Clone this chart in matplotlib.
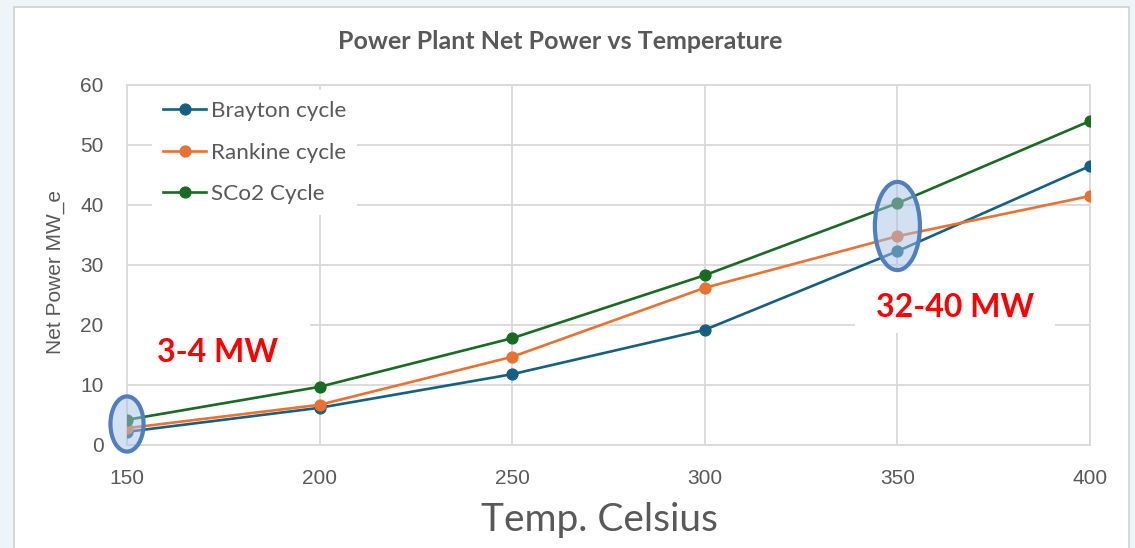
import matplotlib.pyplot as plt
from matplotlib.patches import Ellipse, Rectangle

# data
temps = [150, 200, 250, 300, 350, 400]
brayton = [2.2, 6.2, 11.8, 19.2, 32.3, 46.5]
rankine = [2.8, 6.7, 14.7, 26.2, 34.8, 41.5]
sco2 = [4.2, 9.7, 17.8, 28.3, 40.3, 54.0]
labels = ['Brayton cycle', 'Rankine cycle', 'SCo2 Cycle']
colors = ['#156082', '#E97132', '#196B24']

gray = '#595959'
grid = '#d9d9d9'

fig = plt.figure(figsize=(11.35, 5.48), dpi=100)
fig.patch.set_facecolor('#eef5f8')

# white chart frame
fig.patches.append(Rectangle((14 / 1135, -0.05), 1115 / 1135, 1.05 - 7 / 548,
                             transform=fig.transFigure, facecolor='white',
                             edgecolor='#d0d0d0', linewidth=1.2, zorder=-5))

ax = fig.add_axes([127 / 1135, 1 - 445 / 548, 963 / 1135, 360 / 548])
ax.set_facecolor('white')

for vals, lab, c in zip([brayton, rankine, sco2], labels, colors):
    ax.plot(temps, vals, color=c, lw=1.9, marker='o', markersize=7.8, label=lab, zorder=3)

ax.set_xlim(150, 400)
ax.set_ylim(0, 60)
ax.set_xticks(temps)
ax.set_yticks(range(0, 61, 10))
ax.set_axisbelow(True)
ax.grid(True, color=grid, lw=1.3)
for s in ax.spines.values():
    s.set_color(grid)
    s.set_linewidth(1.3)
ax.tick_params(length=0, labelsize=15, labelcolor=gray, pad=17)
for t in ax.get_xticklabels() + ax.get_yticklabels():
    t.set_fontfamily('Liberation Sans')

# white boxes behind annotations
ax.add_patch(Rectangle((-0.002, 0.175), 0.192, 0.165, transform=ax.transAxes,
                       facecolor='white', edgecolor='none', zorder=1, clip_on=False))
ax.add_patch(Rectangle((0.756, 0.311), 0.208, 0.175, transform=ax.transAxes,
                       facecolor='white', edgecolor='none', zorder=1))

ax.text(0.094, 0.256, '3-4 MW', transform=ax.transAxes, ha='center', va='center',
        color='red', fontsize=23, fontweight='bold', family='Lato', zorder=4)
ax.text(0.860, 0.383, '32-40 MW', transform=ax.transAxes, ha='center', va='center',
        color='red', fontsize=23, fontweight='bold', family='Lato', zorder=4)

# highlight ellipses
for cx, cy, w, h in [(150, 3.5, 8.6, 9.2), (350, 36.5, 11.7, 14.7)]:
    ax.add_patch(Ellipse((cx, cy), w, h, facecolor=(0.65, 0.76, 0.90, 0.5),
                         edgecolor='#4f7fc0', linewidth=3, zorder=5, clip_on=False))

leg = ax.legend(loc='upper left', bbox_to_anchor=(0.026, 0.986), borderaxespad=0,
                frameon=True, fancybox=False, framealpha=1, edgecolor='none',
                prop={'family': 'Lato', 'size': 16.2}, labelspacing=0.95,
                handlelength=1.9, handletextpad=0.22, borderpad=0.5)
for t in leg.get_texts():
    t.set_color(gray)

fig.text(0.4934, 0.925, 'Power Plant Net Power vs Temperature', ha='center', va='center',
         fontsize=18, fontweight='bold', color=gray, family='Lato')
fig.text(0.528, 0.051, 'Temp. Celsius', ha='center', va='center',
         fontsize=28, color=gray, family='Lato')
fig.text(0.049, 0.504, 'Net Power MW_e', ha='center', va='center', rotation=90,
         fontsize=15, color=gray, family='Liberation Sans')

plt.savefig('out.png', dpi=100, facecolor=fig.get_facecolor())
